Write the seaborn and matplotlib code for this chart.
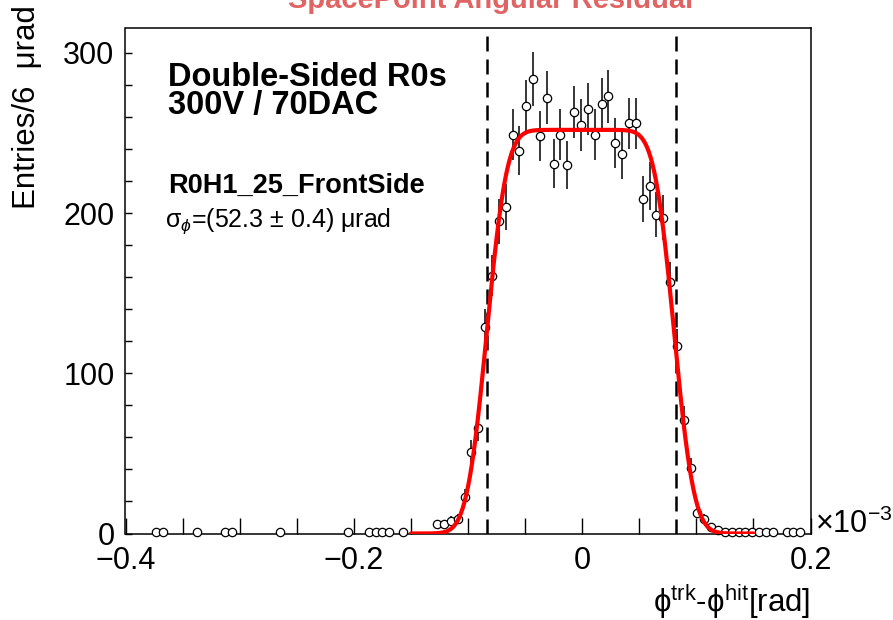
import math
import numpy as np
import pandas as pd
import matplotlib
matplotlib.use("Agg")
import matplotlib.pyplot as plt
from matplotlib.ticker import MultipleLocator
import seaborn as sns

# ---------------- data (x in units of 1e-3 rad, bin width 6 urad) ----------------
bin_x = [-0.373, -0.367, -0.337, -0.313, -0.307, -0.265, -0.205, -0.187, -0.181, -0.175,
         -0.169, -0.157, -0.127, -0.121, -0.115, -0.109, -0.103, -0.097, -0.091, -0.085,
         -0.079, -0.073, -0.067, -0.061, -0.055, -0.049, -0.043, -0.037, -0.031, -0.025,
         -0.019, -0.013, -0.007, -0.001, 0.005, 0.011, 0.017, 0.023, 0.029, 0.035,
         0.041, 0.047, 0.053, 0.059, 0.065, 0.071, 0.077, 0.083, 0.089, 0.095,
         0.101, 0.107, 0.113, 0.119, 0.125, 0.131, 0.137, 0.143, 0.149, 0.155,
         0.161, 0.167, 0.179, 0.185, 0.191]
counts = [1, 1, 1, 1, 1, 1, 1, 1, 1, 1,
          1, 1, 6, 6, 8, 9, 23, 51, 66, 129,
          161, 195, 204, 249, 239, 267, 284, 248, 272, 231,
          249, 230, 263, 255, 265, 249, 268, 273, 244, 237,
          256, 256, 209, 217, 199, 197, 157, 117, 71, 41,
          13, 9, 4, 2, 1, 1, 1, 1, 1, 1,
          1, 1, 1, 1, 1]

# fit (box convolved with gaussian) parameters
fit_plateau = 252.0
fit_left = -0.0835
fit_right = 0.0805
fit_sigma = 0.0138
fit_range = (-0.15, 0.15)

cut_lines = [-0.083, 0.082]

x_ticks = [-0.4, -0.2, 0.0, 0.2]
x_ticklabels = ["\u22120.4", "\u22120.2", "0", "0.2"]
y_ticks = [0, 100, 200, 300]

# ---------------- style ----------------
sns.set_style("white")
plt.rcParams["font.family"] = ["Liberation Sans", "DejaVu Sans"]
plt.rcParams["text.color"] = "black"
plt.rcParams["axes.labelcolor"] = "black"
plt.rcParams["xtick.color"] = "black"
plt.rcParams["ytick.color"] = "black"
plt.rcParams["mathtext.fontset"] = "custom"
plt.rcParams["mathtext.rm"] = "Liberation Sans"
plt.rcParams["mathtext.it"] = "Liberation Sans:italic"
plt.rcParams["mathtext.bf"] = "Liberation Sans:bold"
plt.rcParams["mathtext.sf"] = "Liberation Sans"
plt.rcParams["mathtext.fallback"] = "stixsans"

W, H = 893, 620
fig = plt.figure(figsize=(W / 100, H / 100), dpi=100)
fig.patch.set_facecolor("white")
L, R, T, B = 125.5, 810.5, 28.0, 533.5
ax = fig.add_axes([L / W, 1 - B / H, (R - L) / W, (B - T) / H])

df = pd.DataFrame({"x": bin_x, "n": counts})
df["err"] = np.sqrt(df["n"])

ax.errorbar(df["x"], df["n"], yerr=df["err"], fmt="none", ecolor="black",
            elinewidth=1.1, capsize=0, zorder=2, clip_on=False)
sns.scatterplot(data=df, x="x", y="n", ax=ax, marker="o", s=36,
                facecolor="white", edgecolor="black", linewidth=0.9,
                zorder=3, clip_on=False)

for xc in cut_lines:
    ax.axvline(xc, color="black", lw=1.8, dashes=(6, 3.2), zorder=4)

fx = np.linspace(fit_range[0], fit_range[1], 601)
fy = np.array([fit_plateau / 2 * (math.erf((v - fit_left) / (math.sqrt(2) * fit_sigma))
                                  - math.erf((v - fit_right) / (math.sqrt(2) * fit_sigma)))
               for v in fx])
sns.lineplot(x=fx, y=fy, ax=ax, color="#ff0000", lw=3.0, zorder=5)

ax.set_xlim(-0.4, 0.2)
ax.set_ylim(0, 315.6)
ax.set_xticks(x_ticks)
ax.set_xticklabels(x_ticklabels)
ax.set_yticks(y_ticks)
ax.xaxis.set_minor_locator(MultipleLocator(0.05))
ax.yaxis.set_minor_locator(MultipleLocator(20))
ax.tick_params(axis="x", which="both", direction="in", length=11.5, width=1.0,
               labelsize=22, pad=9, top=False, bottom=True, colors="black")
ax.tick_params(axis="y", which="both", direction="in", length=5, width=1.0,
               labelsize=22, pad=8, left=True, right=False, colors="black")
for sp in ax.spines.values():
    sp.set_visible(True)
    sp.set_color("black")
    sp.set_linewidth(1.1)
ax.set_xlabel("")
ax.set_ylabel("")

def ftext(px, py, s, **kw):
    fig.text(px / W, 1 - py / H, s, **kw)

# title (partially cut at the top, as in the reference)
ftext(491, 8, "SpacePoint Angular Residual", ha="center", va="baseline",
      color="#e06464", fontsize=21, fontweight="bold")

# axis titles
ftext(27, 5, "Entries/6  \u03bcrad", rotation=90, ha="center", va="top", fontsize=22.5)
ftext(810, 612, "\u03d5$^{\\mathrm{trk}}$-\u03d5$^{\\mathrm{hit}}$[rad]",
      ha="right", va="baseline", fontsize=22.5)
ftext(815, 533, r"$\times$10$^{\mathrm{-3}}$", ha="left", va="baseline", fontsize=22)

# annotations
ftext(168, 86, "Double-Sided R0s", ha="left", va="baseline", fontsize=23.5, fontweight="bold")
ftext(168, 114, "300V / 70DAC", ha="left", va="baseline", fontsize=23.5, fontweight="bold")
ftext(168, 193, "R0H1_25_FrontSide", ha="left", va="baseline", fontsize=19.5, fontweight="bold")
ftext(165, 227, "\u03c3$_{\u03d5}$=(52.3 \u00b1 0.4) \u03bcrad", ha="left", va="baseline", fontsize=18)

fig.savefig("out.png", dpi=100)
